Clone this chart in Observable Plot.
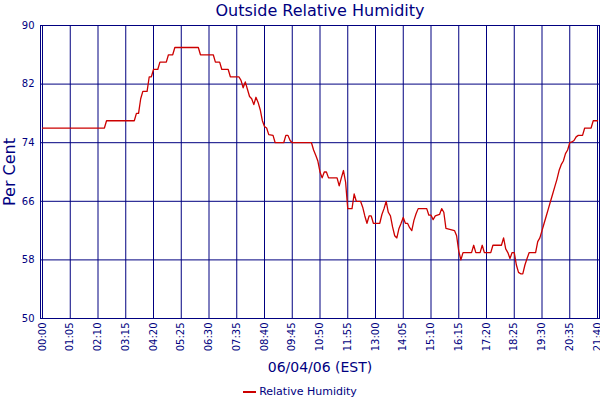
<!DOCTYPE html>
<html><head><meta charset="utf-8">
<script src="https://cdn.jsdelivr.net/npm/d3@7"></script>
<script src="https://cdn.jsdelivr.net/npm/@observablehq/plot@0.6"></script>
<style>
body{margin:0;background:#fff;}
#wrap{position:relative;width:600px;height:400px;font-family:"DejaVu Sans",sans-serif;}
#legend{position:absolute;left:0;top:385px;width:600px;text-align:center;font-size:11px;line-height:14px;color:#000080;}
#legend .sw{display:inline-block;width:13px;height:2px;background:#cc0000;vertical-align:middle;margin-right:3px;}
</style></head><body><div id="wrap"></div>
<script>
const title = "Outside Relative Humidity";
const yLabel = "Per Cent";
const xLabel = "06/04/06 (EST)";
const seriesName = "Relative Humidity";
const yTicks = [50, 58, 66, 74, 82, 90];
const xTickLabels = ["00:00","01:05","02:10","03:15","04:20","05:25","06:30","07:35","08:40","09:45","10:50","11:55","13:00","14:05","15:10","16:15","17:20","18:25","19:30","20:35","21:40"];
const times = ["00:00","02:25","02:30","03:35","03:40","03:45","03:50","03:55","04:05","04:10","04:15","04:20","04:30","04:35","04:50","04:55","05:05","05:10","06:05","06:10","06:40","06:45","06:55","07:00","07:15","07:20","07:40","07:45","07:50","07:55","08:00","08:05","08:10","08:15","08:20","08:25","08:30","08:35","08:40","08:45","08:50","09:00","09:05","09:25","09:30","09:35","09:40","09:45","10:30","10:35","10:40","10:45","10:50","10:55","11:00","11:05","11:10","11:30","11:35","11:40","11:45","11:50","11:55","12:05","12:10","12:15","12:25","12:30","12:35","12:40","12:45","12:50","12:55","13:10","13:15","13:20","13:25","13:30","13:35","13:40","13:45","13:50","13:55","14:00","14:05","14:10","14:15","14:20","14:25","14:30","14:35","14:40","15:00","15:05","15:10","15:15","15:20","15:30","15:35","15:40","15:45","16:05","16:10","16:15","16:20","16:25","16:45","16:50","16:55","17:05","17:10","17:15","17:30","17:35","17:55","18:00","18:05","18:10","18:15","18:20","18:25","18:30","18:35","18:40","18:45","18:50","18:55","19:00","19:15","19:20","19:25","19:30","19:35","19:40","19:45","19:50","19:55","20:00","20:05","20:10","20:15","20:20","20:25","20:30","20:35","20:40","20:45","20:50","20:55","21:05","21:10","21:25","21:30","21:40"];
const humidity = [76,76,77,77,78,78,80,81,81,83,83,84,84,85,85,86,86,87,87,86,86,85,85,84,84,83,83,82.5,81.5,82.3,81.3,80.3,80,79.2,80.2,79.5,78.5,77,76.2,76,75.1,75,74,74,75,75,74.3,74,74,73,72.3,71.5,70,69.2,70,70,69.2,69.2,68.1,69.2,70.2,68.6,65,65,67,66,66,65.2,64,63,64,64,63,63,64.2,65,66,64.5,64,62.5,61.3,61,62.3,63,63.8,63,63,62.4,62,63.4,64.3,65,65,64.1,64.1,63.5,64,64.2,65,64.5,62.3,62,61.3,59.2,58,59,59,60,59,59,60,59,59,60,60,61,59.5,59,58.2,59,59,57.3,56.3,56.1,56.1,57.3,58.2,59,59,60.5,61,62,63,64,65,66,67,68,69,70.2,71,71.5,72.5,73,74,74.1,74.3,74.8,75,75,76,76,77,77];

const toMin = s => { const [h, m] = s.split(":").map(Number); return h * 60 + m; };
const data = times.map((t, i) => ({t: toMin(t), v: humidity[i]}));
const xTicks = xTickLabels.map(toMin);
const labelOf = new Map(xTicks.map((m, i) => [m, xTickLabels[i]]));
const navy = "#000080";

const chart = Plot.plot({
  width: 600, height: 400,
  marginLeft: 40, marginRight: 1, marginTop: 25, marginBottom: 82,
  insetLeft: 2, insetRight: 2,
  style: {color: navy, background: "white", fontFamily: '"DejaVu Sans",sans-serif', fontSize: "10px", overflow: "visible"},
  x: {domain: [xTicks[0], xTicks[xTicks.length - 1]]},
  y: {domain: [yTicks[0], yTicks[yTicks.length - 1]]},
  marks: [
    Plot.gridX(xTicks, {stroke: navy, strokeOpacity: 1}),
    Plot.gridY(yTicks, {stroke: navy, strokeOpacity: 1}),
    Plot.frame({stroke: navy}),
    Plot.axisY(yTicks, {tickSize: 0, tickPadding: 6, label: null, fontSize: 10}),
    Plot.axisX(xTicks, {tickSize: 0, tickPadding: 4, tickRotate: -90, tickFormat: m => labelOf.get(m), label: null, fontSize: 10}),
    Plot.line(data, {x: "t", y: "v", stroke: "#cc0000", strokeWidth: 1.3}),
    Plot.text([title], {text: d => d, frameAnchor: "top", lineAnchor: "middle", textAnchor: "middle", dy: -15, fontSize: 16}),
    Plot.text([xLabel], {text: d => d, frameAnchor: "bottom", lineAnchor: "middle", textAnchor: "middle", dy: 49, fontSize: 14}),
    Plot.text([yLabel], {text: d => d, frameAnchor: "left", lineAnchor: "middle", textAnchor: "middle", dx: -31, rotate: -90, fontSize: 16})
  ]
});
const wrap = document.getElementById("wrap");
wrap.appendChild(chart);
const leg = document.createElement("div");
leg.id = "legend";
leg.innerHTML = '<span class="sw"></span>' + seriesName;
wrap.appendChild(leg);
</script>
</body></html>
